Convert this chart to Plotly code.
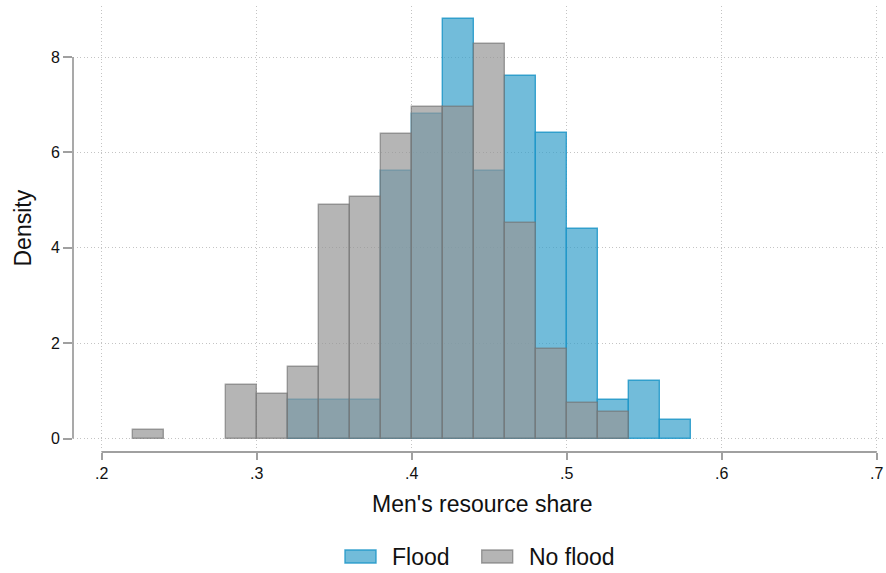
import plotly.graph_objects as go

# Histogram bins (lower edges, width 0.02) and densities
bin_width = 0.02
flood_bins = [0.32, 0.34, 0.36, 0.38, 0.40, 0.42, 0.44, 0.46, 0.48, 0.50, 0.52, 0.54, 0.56]
flood_density = [0.8, 0.8, 0.8, 5.6, 6.8, 8.8, 5.6, 7.6, 6.4, 4.4, 0.8, 1.2, 0.4]

noflood_bins = [0.22, 0.28, 0.30, 0.32, 0.34, 0.36, 0.38, 0.40, 0.42, 0.44, 0.46, 0.48, 0.50, 0.52]
noflood_density = [0.188, 1.128, 0.940, 1.504, 4.887, 5.075, 6.391, 6.955, 6.955, 8.271, 4.511, 1.880, 0.752, 0.564]

x_ticks = [0.2, 0.3, 0.4, 0.5, 0.6, 0.7]
x_ticklabels = [".2", ".3", ".4", ".5", ".6", ".7"]
y_ticks = [0, 2, 4, 6, 8]

series_names = ["Flood", "No flood"]

W, H = 886, 573
ML, MR, MT, MB = 73, 2, 6, 121

# axis scaling in pixels
px_per_x = 1550.0   # pixels per unit of share
px_per_y = 47.7     # pixels per unit of density
x_lo = 0.2 - (101.7 - ML) / px_per_x
x_hi = x_lo + (W - ML - MR) / px_per_x
y_lo = -(451.7 - 438.3) / px_per_y
y_hi = y_lo + (H - MT - MB) / px_per_y

blue_fill = "rgba(54,159,202,0.70)"
blue_line = "rgba(30,150,200,0.85)"
gray_fill = "rgba(149,149,149,0.70)"
gray_line = "rgba(115,115,115,0.65)"
axis_col = "#a0a0a0"
grid_col = "#c4c4c4"
font_family = "Liberation Sans, Arial, sans-serif"

fig = go.Figure()
fig.add_trace(go.Bar(
    x=flood_bins, y=flood_density, width=bin_width, offset=0,
    marker=dict(color=blue_fill, line=dict(color=blue_line, width=1.4)),
    name=series_names[0], showlegend=False,
))
fig.add_trace(go.Bar(
    x=noflood_bins, y=noflood_density, width=bin_width, offset=0,
    marker=dict(color=gray_fill, line=dict(color=gray_line, width=1.4)),
    name=series_names[1], showlegend=False,
))

fig.update_layout(
    width=W, height=H,
    margin=dict(l=ML, r=MR, t=MT, b=MB, pad=0),
    paper_bgcolor="white", plot_bgcolor="white",
    barmode="overlay", bargap=0,
    font=dict(family=font_family, color="#111111"),
    xaxis=dict(
        range=[x_lo, x_hi], tickvals=x_ticks, ticktext=x_ticklabels,
        showline=False, zeroline=False,
        showgrid=True, gridcolor=grid_col, griddash="1px,2.5px", gridwidth=1,
        ticks="outside", ticklen=7, tickwidth=1.5, tickcolor=axis_col,
        tickfont=dict(size=16, color="#111111"),
    ),
    yaxis=dict(
        range=[y_lo, y_hi], tickvals=y_ticks,
        showline=False, zeroline=False,
        showgrid=True, gridcolor=grid_col, griddash="1px,2.5px", gridwidth=1,
        ticks="outside", ticklen=9, tickwidth=1.5, tickcolor=axis_col,
        tickfont=dict(size=16, color="#111111"),
    ),
)

# Axis lines span only the labelled tick range
fig.add_shape(type="line", xref="x", yref="paper",
              x0=x_ticks[0], x1=x_ticks[-1], y0=0, y1=0,
              line=dict(color=axis_col, width=1.8))
fig.add_shape(type="line", xref="paper", yref="y",
              x0=0, x1=0, y0=y_ticks[0], y1=y_ticks[-1],
              line=dict(color=axis_col, width=1.8))

def px_to_paper_x(px):
    return (px - ML) / (W - ML - MR)

def px_to_paper_y(py):
    return (H - MB - py) / (H - MT - MB)

# Axis titles
fig.add_annotation(text="Men's resource share", xref="paper", yref="paper",
                   x=px_to_paper_x(481.7), y=px_to_paper_y(504), showarrow=False,
                   xanchor="center", yanchor="middle",
                   font=dict(size=23, color="#111111"))
fig.add_annotation(text="Density", xref="paper", yref="paper",
                   x=px_to_paper_x(22.5), y=px_to_paper_y(228), showarrow=False,
                   textangle=-90, xanchor="center", yanchor="middle",
                   font=dict(size=23, color="#111111"))

# Legend entries: swatch + label
legend_items = [
    (series_names[0], blue_fill, blue_line, 345, 390),
    (series_names[1], gray_fill, gray_line, 481.7, 526.7),
]
for label, fill, line, sx, tx in legend_items:
    fig.add_shape(type="rect", xref="paper", yref="paper",
                  x0=px_to_paper_x(sx), x1=px_to_paper_x(sx + 31),
                  y0=px_to_paper_y(563), y1=px_to_paper_y(550),
                  fillcolor=fill, line=dict(color=line, width=1.4))
    fig.add_annotation(text=label, xref="paper", yref="paper",
                       x=px_to_paper_x(tx), y=px_to_paper_y(556.5), showarrow=False,
                       xanchor="left", yanchor="middle",
                       font=dict(size=23, color="#111111"))

fig.write_html("out.html")
